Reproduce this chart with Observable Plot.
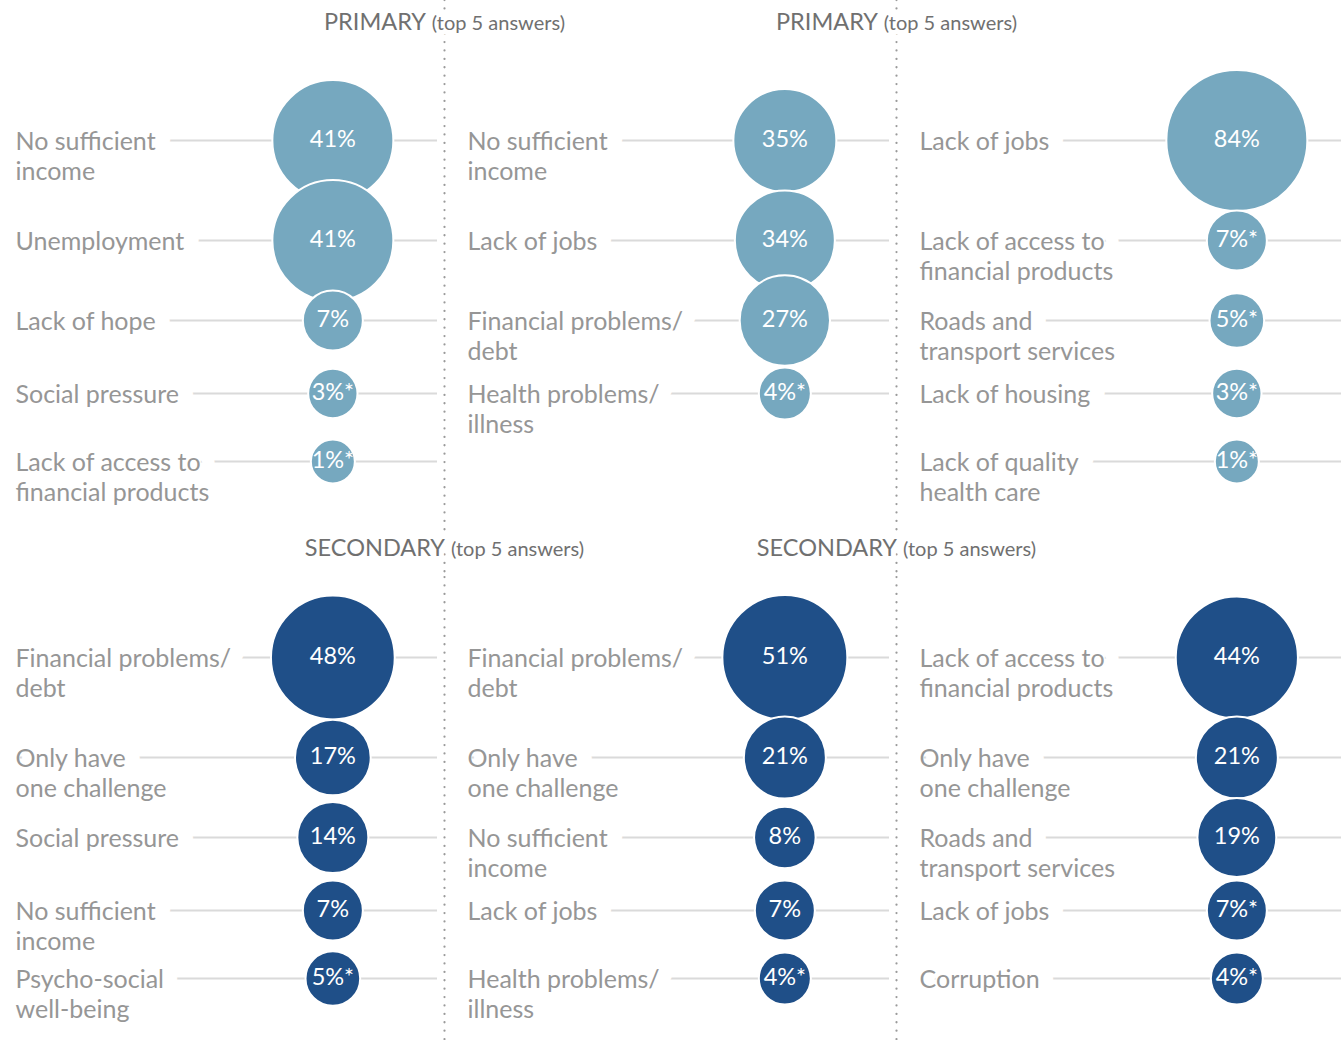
<!DOCTYPE html>
<html>
<head>
<meta charset="utf-8">
<script src="https://cdn.jsdelivr.net/npm/d3@7"></script>
<script src="https://cdn.jsdelivr.net/npm/@observablehq/plot@0.6"></script>
<style>
  html, body { margin: 0; padding: 0; background: #fff; }
  #chart svg { display: block; }
</style>
</head>
<body>
<div id="chart"></div>
<script>
// ---------- data ----------
const levels = ["PRIMARY", "SECONDARY"];
const panels = [1, 2, 3];
const subtitle = "(top 5 answers)";

const primary1Labels = ["No sufficient\nincome", "Unemployment", "Lack of hope", "Social pressure", "Lack of access to\nfinancial products"];
const primary1Values = [41, 41, 7, 3, 1];
const primary1Notes  = ["", "", "", "*", "*"];

const primary2Labels = ["No sufficient\nincome", "Lack of jobs", "Financial problems/\ndebt", "Health problems/\nillness"];
const primary2Values = [35, 34, 27, 4];
const primary2Notes  = ["", "", "", "*"];

const primary3Labels = ["Lack of jobs", "Lack of access to\nfinancial products", "Roads and\ntransport services", "Lack of housing", "Lack of quality\nhealth care"];
const primary3Values = [84, 7, 5, 3, 1];
const primary3Notes  = ["", "*", "*", "*", "*"];

const secondary1Labels = ["Financial problems/\ndebt", "Only have\none challenge", "Social pressure", "No sufficient\nincome", "Psycho-social\nwell-being"];
const secondary1Values = [48, 17, 14, 7, 5];
const secondary1Notes  = ["", "", "", "", "*"];

const secondary2Labels = ["Financial problems/\ndebt", "Only have\none challenge", "No sufficient\nincome", "Lack of jobs", "Health problems/\nillness"];
const secondary2Values = [51, 21, 8, 7, 4];
const secondary2Notes  = ["", "", "", "", "*"];

const secondary3Labels = ["Lack of access to\nfinancial products", "Only have\none challenge", "Roads and\ntransport services", "Lack of jobs", "Corruption"];
const secondary3Values = [44, 21, 19, 7, 4];
const secondary3Notes  = ["", "", "", "*", "*"];

// ---------- table ----------
const rows = [];
function addPanel(level, panel, labels, values, notes) {
  labels.forEach((label, i) => rows.push({
    level, panel, rank: i + 1, label,
    first: label.split("\n")[0],
    value: values[i],
    text: values[i] + "%" + notes[i]
  }));
}
addPanel("PRIMARY", 1, primary1Labels, primary1Values, primary1Notes);
addPanel("PRIMARY", 2, primary2Labels, primary2Values, primary2Notes);
addPanel("PRIMARY", 3, primary3Labels, primary3Values, primary3Notes);
addPanel("SECONDARY", 1, secondary1Labels, secondary1Values, secondary1Notes);
addPanel("SECONDARY", 2, secondary2Labels, secondary2Values, secondary2Notes);
addPanel("SECONDARY", 3, secondary3Labels, secondary3Values, secondary3Notes);

// ---------- style ----------
const FONT = "Lato, 'Open Sans', sans-serif";
const LABEL_SIZE = 25, TITLE_SIZE = 23.5, SUB_SIZE = 20, VALUE_SIZE = 23.5;
const BUBBLE_X = 0.752;   // share of a panel's width where the bubbles sit
const DIV_DX = -23;       // divider offset from a panel's left edge

const ctx = document.createElement("canvas").getContext("2d");
function measure(t, size) { ctx.font = `${size}px Lato`; return ctx.measureText(t).width; }

function titleMarks(level, dy) {
  const w1 = measure(level, TITLE_SIZE), w2 = measure(subtitle, SUB_SIZE), gap = 6;
  const total = w1 + gap + w2;
  const data = panels.slice(1).map(panel => ({panel, level}));
  const common = {fx: "panel", fy: "level", x: 0, frameAnchor: "top", textAnchor: "start",
                  lineAnchor: "bottom", dy, fill: "#707070", stroke: "white", strokeWidth: 10};
  return [
    Plot.text(data, {...common, text: "level", dx: DIV_DX - total / 2, fontSize: TITLE_SIZE}),
    Plot.text(data, {...common, text: () => subtitle, dx: DIV_DX - total / 2 + w1 + gap, fontSize: SUB_SIZE})
  ];
}

const dividerTop = panels.slice(1).map(panel => ({panel, level: "PRIMARY"}));
const dividerBottom = panels.slice(1).map(panel => ({panel, level: "SECONDARY"}));
const dividerStyle = {fx: "panel", fy: "level", x: 0, dx: DIV_DX, stroke: "#9a9a9a",
  strokeWidth: 2.2, strokeDasharray: "0.1 8.3", strokeLinecap: "round"};

const labelStyle = {fx: "panel", fy: "level", x: 0, y: "rank", textAnchor: "start",
  lineAnchor: "top", lineHeight: 1.17, dy: -11, fontSize: LABEL_SIZE};

const chart = Plot.plot({
  width: 1341,
  height: 1040,
  marginTop: 60, marginBottom: 0, marginLeft: 15, marginRight: 0,
  style: {fontFamily: FONT, background: "white"},
  fx: {domain: panels, paddingInner: 30 / 452, paddingOuter: 0, round: false, axis: null},
  fy: {domain: levels, paddingInner: 54 / 517, paddingOuter: 0, round: false, axis: null},
  x: {domain: [0, 1], axis: null},
  y: {type: "linear", domain: [1, 2, 3, 4, 5], range: [140, 240, 320, 393, 461], axis: null},
  r: {type: "linear", domain: [0, 1, 7, 14, 21, 34, 41, 51, 84], range: [20.5, 22, 30, 35.5, 41, 50, 60.5, 62.5, 70.5]},
  color: {domain: levels, range: ["#76a8bf", "#1f4f88"]},
  marks: [
    Plot.ruleY(rows, {fx: "panel", fy: "level", y: "rank", x1: 0, x2: 1, stroke: "#dadada", strokeWidth: 1.8}),
    Plot.text(rows, {...labelStyle, text: "first", fill: "white", stroke: "white", strokeWidth: 30}),
    Plot.text(rows, {...labelStyle, text: "label", fill: "#969696"}),
    Plot.dot(rows, {fx: "panel", fy: "level", x: BUBBLE_X, y: "rank", r: "value", fill: "level", stroke: "white", strokeWidth: 2}),
    Plot.text(rows, {fx: "panel", fy: "level", x: BUBBLE_X, y: "rank", text: "text", fill: "white",
      fontSize: VALUE_SIZE, textAnchor: "middle", lineAnchor: "middle", dy: -1}),
    Plot.ruleX(dividerTop, {...dividerStyle, insetTop: -60, insetBottom: -54}),
    Plot.ruleX(dividerBottom, {...dividerStyle}),
    ...titleMarks("PRIMARY", -31),
    ...titleMarks("SECONDARY", -22)
  ]
});
document.getElementById("chart").append(chart);
</script>
</body>
</html>
